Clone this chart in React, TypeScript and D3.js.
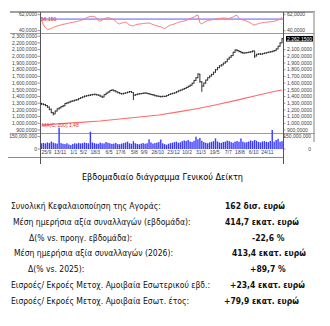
import React from "react";
import * as d3 from "d3";

// ---------- data ----------
const firstWeek = "2023-09-11";
const lastWeek = "2026-01-19";
const firstOpen = 1295;
const closes = [
  1288, 1280, 1265, 1243, 1210, 1160, 1140, 1183, 1215, 1230,
  1250, 1262, 1295, 1305, 1318, 1330, 1335, 1347, 1352, 1370,
  1382, 1395, 1405, 1412, 1418, 1424, 1430, 1433, 1426, 1420,
  1405, 1392, 1428, 1450, 1468, 1490, 1497, 1486, 1470, 1458,
  1446, 1440, 1448, 1455, 1465, 1474, 1460, 1420, 1428, 1437,
  1441, 1445, 1450, 1452, 1444, 1437, 1430, 1422, 1412, 1406,
  1402, 1398, 1403, 1402, 1415, 1430, 1440, 1448, 1455, 1470,
  1486, 1495, 1508, 1520, 1535, 1552, 1568, 1598, 1640, 1680,
  1735, 1620, 1555, 1600, 1645, 1680, 1705, 1730, 1762, 1800,
  1830, 1858, 1872, 1898, 1918, 1958, 1985, 2010, 2060, 2094,
  2085, 2072, 2058, 2049, 2052, 2057, 2062, 2068, 2079, 2005,
  2030, 2036, 2032, 2040, 2048, 2055, 2062, 2068, 2076, 2085,
  2110, 2150, 2200, 2262,
];
const highs = [
  1305, 1298, 1290, 1272, 1250, 1218, 1170, 1190, 1222, 1240,
  1258, 1272, 1302, 1315, 1325, 1338, 1345, 1355, 1362, 1378,
  1390, 1402, 1415, 1420, 1428, 1432, 1440, 1442, 1440, 1432,
  1425, 1412, 1432, 1456, 1474, 1496, 1508, 1502, 1492, 1476,
  1464, 1452, 1456, 1462, 1472, 1482, 1480, 1465, 1436, 1444,
  1450, 1452, 1458, 1460, 1458, 1450, 1442, 1436, 1428, 1418,
  1414, 1410, 1412, 1410, 1422, 1436, 1448, 1455, 1462, 1478,
  1492, 1502, 1515, 1528, 1544, 1560, 1578, 1606, 1648, 1690,
  1745, 1740, 1630, 1608, 1652, 1688, 1714, 1740, 1770, 1810,
  1840, 1866, 1882, 1906, 1928, 1966, 1994, 2020, 2068, 2102,
  2105, 2092, 2080, 2066, 2060, 2066, 2070, 2078, 2090, 2085,
  2038, 2044, 2045, 2048, 2056, 2062, 2070, 2076, 2084, 2094,
  2118, 2158, 2210, 2275,
];
const lows = [
  1275, 1270, 1255, 1232, 1195, 1150, 1118, 1135, 1175, 1205,
  1222, 1240, 1255, 1285, 1298, 1310, 1322, 1328, 1338, 1345,
  1362, 1375, 1388, 1396, 1404, 1408, 1415, 1418, 1415, 1408,
  1395, 1378, 1388, 1420, 1444, 1460, 1480, 1474, 1462, 1448,
  1435, 1428, 1432, 1440, 1448, 1458, 1452, 1347, 1410, 1420,
  1428, 1432, 1436, 1440, 1436, 1428, 1420, 1412, 1402, 1396,
  1390, 1385, 1390, 1392, 1396, 1410, 1424, 1434, 1442, 1450,
  1465, 1478, 1490, 1500, 1514, 1530, 1545, 1562, 1592, 1632,
  1672, 1605, 1470, 1548, 1592, 1638, 1672, 1698, 1722, 1755,
  1792, 1822, 1848, 1865, 1890, 1912, 1950, 1978, 2004, 2052,
  2074, 2060, 2046, 2036, 2040, 2044, 2048, 2054, 2060, 1975,
  1998, 2020, 2022, 2025, 2033, 2040, 2048, 2054, 2060, 2068,
  2080, 2104, 2144, 2195,
];
// weekly turnover, millions
const volumes = [
  70, 75, 68, 80, 72, 90, 78, 70, 66, 260,
  72, 64, 60, 70, 55, 48, 62, 70, 66, 75,
  68, 72, 80, 74, 70, 211, 80, 72, 66, 64,
  78, 70, 68, 85, 76, 70, 62, 66, 74, 60,
  58, 66, 72, 80, 90, 70, 64, 95, 70, 62,
  58, 66, 72, 64, 70, 118, 80, 66, 72, 78,
  84, 115, 70, 60, 52, 64, 72, 78, 84, 90,
  76, 82, 96, 104, 98, 110, 92, 86, 100, 150,
  118, 135, 100, 84, 76, 70, 80, 88, 96, 130,
  92, 80, 74, 86, 90, 102, 96, 84, 76, 90,
  98, 88, 128, 90, 80, 84, 92, 104, 96, 110,
  100, 86, 80, 92, 96, 88, 84, 98, 232, 90,
  110, 124, 88, 96,
];
const rsi = [
  54.7, 48, 44, 41.6, 42, 43, 44.5, 45.5, 46.5, 47.2,
  48, 48.8, 49.2, 49.8, 50.5, 51, 51.5, 52, 52.5, 53.2,
  54, 55, 56.2, 58, 59, 59.5, 59.8, 59.3, 58.2, 54,
  53, 54.5, 56.5, 57.5, 57.8, 57.5, 56.5, 55, 53, 50.5,
  49.2, 50.5, 51.3, 52, 50, 47.8, 47, 46.5, 48, 48.8,
  49.2, 49.5, 49.9, 50.2, 50.4, 50.6, 49.5, 48.5, 47.5, 46.5,
  46, 45.5, 44, 43, 44.5, 46.5, 47.8, 48.6, 49.2, 50.5,
  51.6, 52.3, 52.8, 53.3, 54.3, 55.5, 56.6, 57.6, 58.8, 60.5,
  61.6, 51, 49.2, 51.5, 52.8, 54, 54.7, 55, 55.4, 56,
  56.5, 56.8, 57.2, 57.5, 57.3, 57, 56.8, 58, 58.8, 60.5,
  61.2, 57, 55.5, 54.8, 54, 53, 52, 50.5, 48.5, 47.8,
  48.8, 49.9, 50.5, 51, 51.3, 51.6, 52, 52.3, 52.6, 53,
  53.8, 54.7, 56, 58.8,
];
const rsiReference = 56;
const maWeeks = [0, 10, 20, 30, 40, 50, 60, 70, 80, 90, 100, 110, 120, 123];
const maValues = [974, 994, 1015, 1034, 1064, 1094, 1124, 1171, 1221, 1280, 1347, 1415, 1482, 1497];
const priceTicks = [900, 1000, 1100, 1200, 1300, 1400, 1500, 1600, 1700, 1800, 1900, 2000, 2100, 2200, 2300];
const rsiTicks = [62, 40];
const volumeTicks = [150, 0];
const dateTicks = [
  "2023-09-25", "2023-11-13", "2024-01-01", "2024-02-05", "2024-03-18", "2024-05-06",
  "2024-06-17", "2024-08-05", "2024-09-09", "2024-10-28", "2024-12-23", "2025-02-10",
  "2025-03-31", "2025-05-19", "2025-07-07", "2025-08-18", "2025-10-06", "2025-11-24",
];
const lastCloseLabel = 2262.15;
const rsiLabel = "56,150";
const maLabel = "MA(C, 200) 1,48";
const title = "Εβδομαδιαίο διάγραμμα Γενικού Δείκτη";
const statLabels = [
  "Συνολική Κεφαλαιοποίηση της Αγοράς:",
  "Μέση ημερήσια αξία συναλλαγών (εβδομάδα):",
  "Δ(% vs. προηγ. εβδομάδα):",
  "Μέση ημερήσια αξία συναλλαγών (2026):",
  "Δ(% vs. 2025):",
  "Εισροές/ Εκροές Μετοχ. Αμοιβαία Εσωτερικού εβδ.:",
  "Εισροές/ Εκροές Μετοχ. Αμοιβαία Εσωτ. έτος:",
];
const statValues = [
  "162 δισ. ευρώ",
  "414,7 εκατ. ευρώ",
  "-22,6 %",
  "413,4 εκατ. ευρώ",
  "+89,7 %",
  "+23,4 εκατ. ευρώ",
  "+79,9 εκατ. ευρώ",
];

// ---------- layout ----------
const W = 330;
const H = 326;
const L = 40;
const R = 283;
const labelX = [11, 13, 29, 14, 28, 11, 11];
const valueX = [225, 225, 252, 232, 250, 230, 224];
const baselines = [209, 225, 241, 256, 272, 288, 304];

const parse = d3.timeParse("%Y-%m-%d");
const weeks = d3.timeMonday.range(parse(firstWeek)!, d3.timeDay.offset(parse(lastWeek)!, 1));

const x = d3.scaleTime().domain([weeks[0], weeks[weeks.length - 1]]).range([41.5, 282]);
const yP = d3.scaleLinear().domain([855, 2348]).range([133, 33]);
const yR = d3.scaleLinear().domain([40, 62]).range([30.7, 14.7]);
const yV = d3.scaleLinear().domain([0, 150]).range([149, 136.7]);

const fmtInt = d3.format(",");
const priceFmt = (v: number) => fmtInt(v) + ",0000";
const boxFmt = (v: number) => d3.format(",.4f")(v).replace(/\.(\d+)$/, ",$1");
const dateFmt = d3.timeFormat("%-d/%-m");

const axisFont = "'Liberation Sans', Arial, sans-serif";
const textFont = "'DejaVu Sans Condensed', 'DejaVu Sans', sans-serif";

export default function App() {
  const rsiLine = d3
    .line<number>()
    .x((_, i) => x(weeks[i]))
    .y((d) => yR(d))(rsi)!;
  const maLine = d3
    .line<number>()
    .x((_, i) => x(weeks[maWeeks[i]]))
    .y((d) => yP(d))(maValues)!;
  const boxY = yP(lastCloseLabel);

  return (
    <svg
      width={W}
      height={H}
      style={{ position: "absolute", left: 0, top: 0, background: "#fff" }}
    >
      {/* frame */}
      <line x1={10} x2={315} y1={12} y2={12} stroke="#a0a0a0" strokeWidth={2} />
      <line x1={314} x2={314} y1={12} y2={142} stroke="#c0c0c0" strokeWidth={2} />
      <line x1={10} x2={315} y1={33.5} y2={33.5} stroke="#9a9a9a" strokeWidth={1} />
      <line x1={10} x2={315} y1={133.5} y2={133.5} stroke="#9a9a9a" strokeWidth={1} />
      <line x1={8} x2={R} y1={157.5} y2={157.5} stroke="#8a8a8a" strokeWidth={1} />
      <line x1={L + 0.5} x2={L + 0.5} y1={12} y2={164} stroke="#555" strokeWidth={1} />
      <line x1={R + 0.5} x2={R + 0.5} y1={12} y2={164} stroke="#555" strokeWidth={1} />

      {/* RSI panel */}
      <line x1={L} x2={R} y1={yR(rsiReference)} y2={yR(rsiReference)} stroke="#5a5aff" strokeWidth={1} />
      <path d={rsiLine} fill="none" stroke="#ff7a7a" strokeWidth={1} />
      <text x={L + 1} y={yR(rsiReference) + 2} fontSize={5} fontFamily={axisFont} fill="#e03030">
        {rsiLabel}
      </text>

      {/* moving average */}
      <path d={maLine} fill="none" stroke="#ff6a6a" strokeWidth={1.2} />
      <text x={L + 2} y={127} fontSize={5} fontFamily={axisFont} fill="#e03030">
        {maLabel}
      </text>

      {/* volume bars */}
      {volumes.map((v, i) => (
        <rect
          key={"v" + i}
          x={x(weeks[i]) - 0.7}
          width={1.4}
          y={yV(v)}
          height={yV(0) - yV(v)}
          fill="#3a3aff"
        />
      ))}

      {/* price OHLC bars */}
      {closes.map((c, i) => {
        const cx = x(weeks[i]);
        const o = i === 0 ? firstOpen : closes[i - 1];
        return (
          <g key={"p" + i} stroke="#1a1a1a" strokeWidth={0.9}>
            <line x1={cx} x2={cx} y1={yP(highs[i])} y2={yP(lows[i])} />
            <line x1={cx - 0.9} x2={cx} y1={yP(o)} y2={yP(o)} />
            <line x1={cx} x2={cx + 0.9} y1={yP(c)} y2={yP(c)} />
          </g>
        );
      })}

      {/* left axis labels */}
      <g fontSize={5} fontFamily={axisFont} fill="#404040">
        {priceTicks.map((t) => (
          <g key={"lp" + t}>
            <text x={37} y={yP(t)} dy="0.35em" textAnchor="end">{priceFmt(t)}</text>
            <line x1={37.5} x2={L} y1={yP(t)} y2={yP(t)} stroke="#555" strokeWidth={0.6} />
          </g>
        ))}
        {rsiTicks.map((t) => (
          <g key={"lr" + t}>
            <text x={37} y={yR(t)} dy="0.35em" textAnchor="end">{priceFmt(t)}</text>
            <line x1={37.5} x2={L} y1={yR(t)} y2={yR(t)} stroke="#555" strokeWidth={0.6} />
          </g>
        ))}
        {volumeTicks.map((t) => (
          <g key={"lv" + t}>
            <text x={37} y={yV(t)} dy="0.35em" textAnchor="end">{fmtInt(t * 1e6)}</text>
            <line x1={37.5} x2={L} y1={yV(t)} y2={yV(t)} stroke="#555" strokeWidth={0.6} />
          </g>
        ))}
      </g>

      {/* right axis labels */}
      <g fontSize={5} fontFamily={axisFont} fill="#404040">
        {priceTicks
          .filter((t) => Math.abs(yP(t) - boxY) > 7)
          .map((t) => (
            <g key={"rp" + t}>
              <text x={287} y={yP(t)} dy="0.35em">{priceFmt(t)}</text>
              <line x1={R} x2={285.5} y1={yP(t)} y2={yP(t)} stroke="#555" strokeWidth={0.6} />
            </g>
          ))}
        {rsiTicks.map((t) => (
          <g key={"rr" + t}>
            <text x={287} y={yR(t)} dy="0.35em">{priceFmt(t)}</text>
            <line x1={R} x2={285.5} y1={yR(t)} y2={yR(t)} stroke="#555" strokeWidth={0.6} />
          </g>
        ))}
        {volumeTicks.map((t) => (
          <g key={"rv" + t}>
            <text x={311} y={yV(t)} dy="0.35em" textAnchor="end">{fmtInt(t * 1e6)}</text>
            <line x1={R} x2={285.5} y1={yV(t)} y2={yV(t)} stroke="#555" strokeWidth={0.6} />
          </g>
        ))}
      </g>

      {/* last close box */}
      <rect x={286} y={boxY - 2.8} width={27} height={5.6} fill="#000" />
      <text x={299.5} y={boxY} dy="0.35em" textAnchor="middle" fontSize={5} fontFamily={axisFont} fill="#fff">
        {boxFmt(lastCloseLabel)}
      </text>

      {/* date labels */}
      <g fontSize={5} fontFamily={axisFont} fill="#404040" textAnchor="middle">
        {dateTicks.map((d) => (
          <text key={d} x={x(parse(d)!) + 1} y={154.3}>
            {dateFmt(parse(d)!)}
          </text>
        ))}
      </g>

      {/* title */}
      <text x={162.5} y={180} textAnchor="middle" fontSize={9} fontFamily={textFont} fill="#000">
        {title}
      </text>

      {/* statistics */}
      <g fontSize={8.5} fontFamily={textFont} fill="#111">
        {statLabels.map((s, i) => (
          <text key={"sl" + i} x={labelX[i]} y={baselines[i]}>{s}</text>
        ))}
        {statValues.map((s, i) => (
          <text key={"sv" + i} x={valueX[i]} y={baselines[i]} fontWeight="bold">{s}</text>
        ))}
      </g>
    </svg>
  );
}
